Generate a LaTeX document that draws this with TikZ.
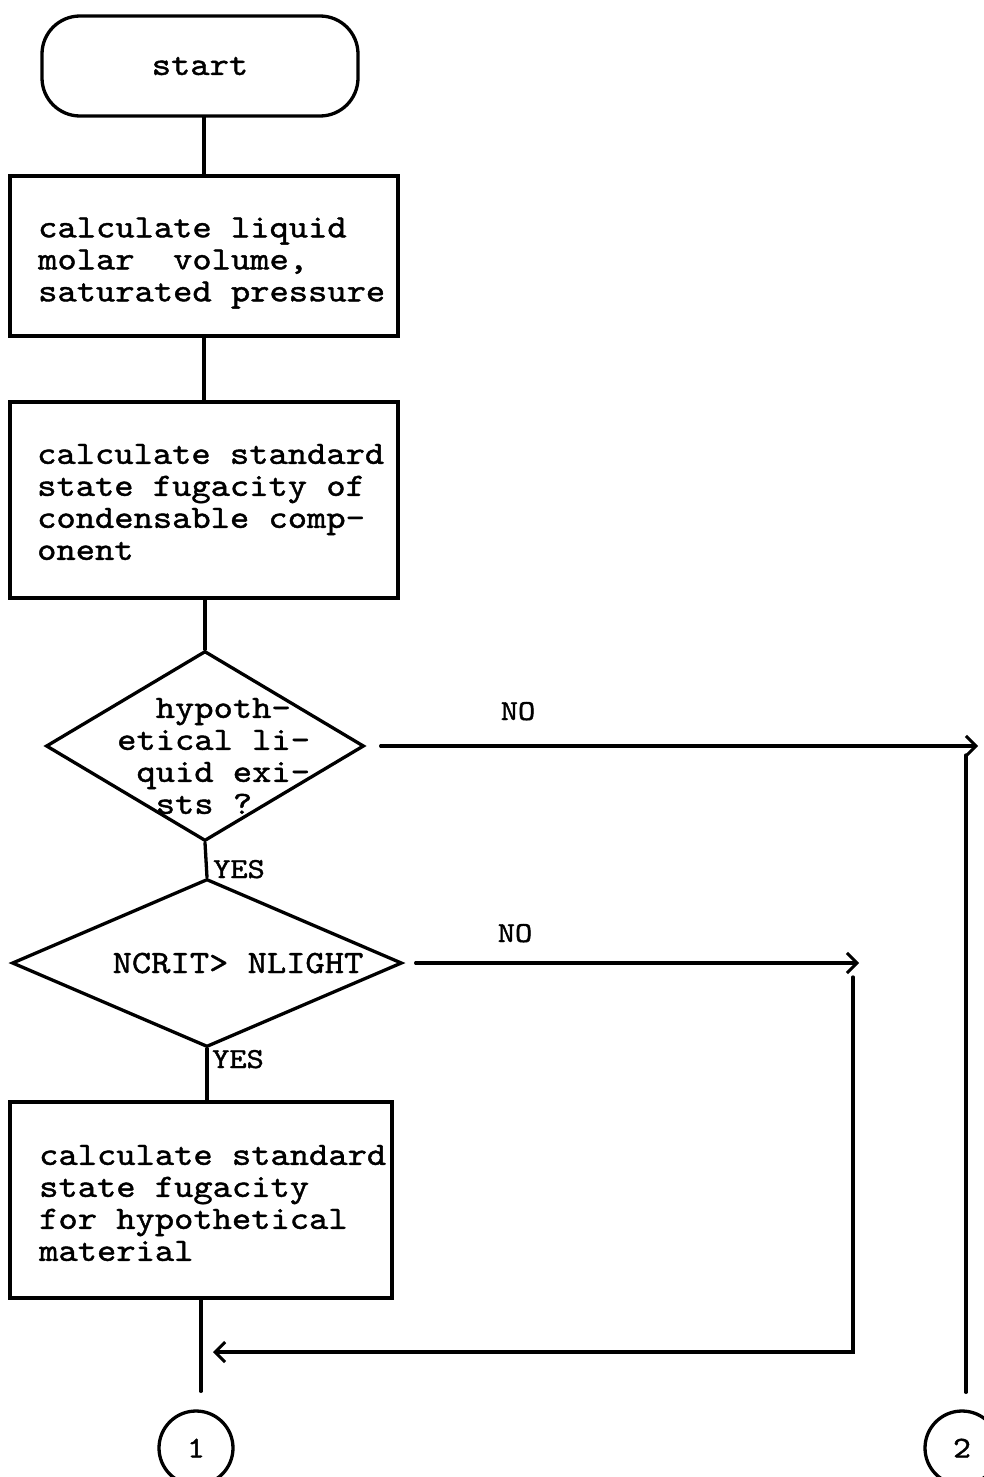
\documentclass[tikz,border=0pt]{standalone}
\usepackage{fontspec}
\setmonofont[FakeStretch=1.13,FakeBold=1.3]{lmmono10-regular.otf}
\usetikzlibrary{shapes.geometric,arrows.meta}

\tikzset{
  ln/.style={line width=3.3pt, line cap=round},
  arr/.style={ln, -{Straight Barb[length=10pt,width=20pt,line width=3pt]}},
  flowbox/.style={draw, line width=3.3pt, rectangle, inner sep=0pt},
  startbox/.style={draw, line width=3.3pt, rectangle, rounded corners=38pt,
    minimum width=316pt, minimum height=100pt, inner sep=0pt,
    font=\fontsize{32.5}{32}\selectfont\ttfamily},
  decision/.style={draw, line width=3.3pt, diamond, inner sep=0pt},
  boxtext/.style={anchor=west, align=left, inner sep=0pt,
    font=\fontsize{32.5}{32}\selectfont\ttfamily},
  linetext/.style={anchor=base, inner sep=0pt,
    font=\fontsize{32.5}{32}\selectfont\ttfamily},
  tag/.style={inner sep=0pt, font=\fontsize{29}{30}\selectfont\ttfamily},
  connector/.style={draw, line width=3.3pt, circle, minimum size=74pt,
    inner sep=0pt, font=\fontsize{30}{30}\selectfont\ttfamily}
}

\begin{document}
\begin{tikzpicture}[x=1pt,y=-1pt]
\useasboundingbox (0,0) rectangle (983,1477);

% main column
\node[startbox] (start) at (200,66) {start};

\node[flowbox, minimum width=388pt, minimum height=160pt] (b1) at (204,256) {};
\node[boxtext] (t1) at (38,263) {calculate liquid\\molar\ \ volume,\\saturated pressure};

\node[flowbox, minimum width=388pt, minimum height=196pt] (b2) at (204,500) {};
\node[boxtext] (t2) at (37,502) {calculate standard\\state fugacity of\\condensable comp-\\onent};

\node[decision, minimum width=318pt, minimum height=190pt] (d1) at (205,746) {};
\node[boxtext] (td1) at (117,756) {\phantom{xx}hypoth-\\etical li-\\\phantom{x}quid exi-\\\phantom{xx}sts ?};

\node[decision, minimum width=390pt, minimum height=168pt] (d2) at (207,963) {};
\node[linetext] (td2) at (238,973) {NCRIT> NLIGHT};

\node[flowbox, minimum width=382pt, minimum height=196pt] (b3) at (201,1200) {};
\node[boxtext] (t3) at (39,1203) {calculate standard\\state fugacity\\for hypothetical\\material};

\node[connector] (c1) at (196,1448) {1};
\node[connector] (c2) at (962,1448) {2};

% branch labels
\node[tag, anchor=base west] (yes1) at (213,878) {YES};
\node[tag, anchor=base west] (yes2) at (212,1068) {YES};
\node[tag, anchor=base] (no1lbl) at (518,720) {NO};
\node[tag, anchor=base] (no2lbl) at (515,942) {NO};

% free ends of the side branches
\coordinate (no1) at (978,746);
\coordinate (r1top) at (966,755);
\coordinate (no2) at (859,963);
\coordinate (r2top) at (853,977);
\coordinate (join) at (199,1352);

% connectors
\draw[ln] (start.south -| b1.north) -- (b1.north);
\draw[ln] (b1.south) -- (b2.north);
\draw[ln] (b2.south -| d1.north) -- (d1.north);
\draw[ln] (d1.south) -- (d2.north);
\draw[ln] (d2.south) -- (d2.south |- b3.north);
\draw[ln, shorten >=18pt] (b3.south) -- (b3.south |- c1.north);

\draw[arr] ([xshift=15pt]d1.east) -- (no1);
\draw[ln, shorten >=17pt] (r1top) -- (r1top |- c2.north);

\draw[arr] ([xshift=12pt]d2.east) -- (no2 |- d2.east);
\draw[arr] (r2top) |- ([xshift=14pt]join);
\end{tikzpicture}
\end{document}
